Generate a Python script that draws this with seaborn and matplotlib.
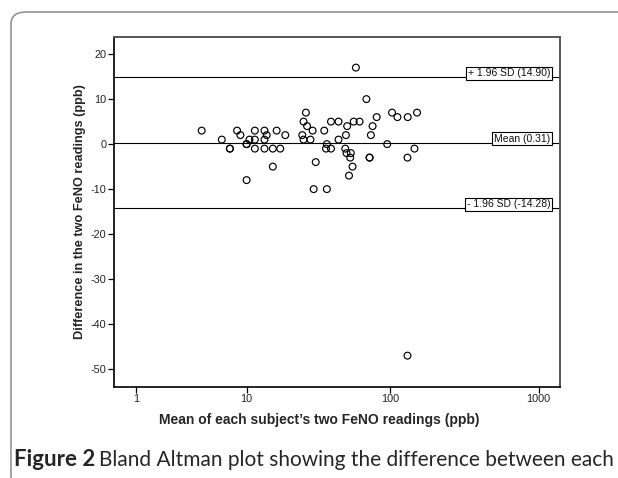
import numpy as np
import pandas as pd
import matplotlib
matplotlib.use("Agg")
import matplotlib.pyplot as plt
import seaborn as sns
from matplotlib.patches import FancyBboxPatch

# ---- data ----
mean_ppb = [4.5, 6.5, 7.5, 7.5, 8.5, 9, 10, 10, 10, 10.5, 11.5, 11.5, 11.5,
            13.5, 13.5, 13.5, 14, 15.5, 15.5, 16.5, 17.5, 19, 25, 25.5, 25.5,
            26.5, 27, 28.5, 29.5, 30, 31, 35.5, 37, 36.5, 39.5, 37, 39.5,
            44.5, 44.5, 51, 50, 49.5, 50.5, 54, 53.5, 55.5, 52.5, 56.5, 62,
            58.5, 69, 72.5, 72.5, 74, 76, 81, 95.5, 103, 112, 131.5, 152,
            131, 146, 131]
diff_ppb = [3, 1, -1, -1, 3, 2, 0, 0, -8, 1, 3, 1, -1,
            3, 1, -1, 2, -1, -5, 3, -1, 2, 2, 5, 1,
            7, 4, 1, 3, -10, -4, 3, 0, -1, -1, -10, 5,
            5, 1, 4, 2, -1, -2, -2, -3, -5, -7, 5, 5,
            17, 10, -3, -3, 2, 4, 6, 0, 7, 6, 6, 7,
            -3, -1, -47]
ref_values = [14.90, 0.31, -14.28]
ref_labels = ["+ 1.96 SD (14.90)", "Mean (0.31)", "- 1.96 SD (-14.28)"]
x_ticks = [1, 10, 100, 1000]
y_ticks = [-50, -40, -30, -20, -10, 0, 10, 20]

df = pd.DataFrame({"mean": mean_ppb, "diff": diff_ppb})

sns.set_theme(style="white")
plt.rcParams["font.family"] = ["Liberation Sans", "DejaVu Sans"]

W, H = 618, 478
fig = plt.figure(figsize=(W / 100, H / 100), dpi=100)
fig.patch.set_facecolor("white")

# outer rounded frame of the page figure box
frame = FancyBboxPatch((11 / W, 1 - 500 / H), 700 / W, 488 / H,
                       boxstyle="round,pad=0,rounding_size=0.025",
                       transform=fig.transFigure, fill=False,
                       edgecolor="#8a8a8a", linewidth=1.1, zorder=0)
fig.patches.append(frame)

ax = fig.add_axes([114 / W, 1 - 386.7 / H, (560 - 114) / W, (386.7 - 37) / H])

fwd = lambda v: np.log10(np.clip(v, -0.999999, None) + 1)
inv = lambda v: 10 ** v - 1
ax.set_xscale("function", functions=(fwd, inv))

for val in ref_values:
    ax.axhline(val, color="black", linewidth=0.8, zorder=1)

sns.scatterplot(data=df, x="mean", y="diff", ax=ax, marker="o", s=24,
                zorder=3, legend=False)
coll = ax.collections[-1]
coll.set_facecolor("none")
coll.set_edgecolor("black")
coll.set_linewidth(0.85)

for val, lab in zip(ref_values, ref_labels):
    ax.annotate(lab, xy=(1.0, val), xycoords=("axes fraction", "data"),
                xytext=(-7, 2.8), textcoords="offset points",
                ha="right", va="center", fontsize=7.5, color="#111",
                bbox=dict(boxstyle="square,pad=0.15", fc="white",
                          ec="black", lw=0.8), zorder=4)

ax.set_xlim(0.42, 1390)
ax.set_ylim(-53.9, 23.8)
ax.set_xticks(x_ticks)
ax.set_xticklabels([str(t) for t in x_ticks])
ax.set_yticks(y_ticks)
ax.set_yticklabels([str(t) for t in y_ticks])
ax.minorticks_off()
ax.tick_params(axis="both", which="major", direction="out", length=4,
               width=0.9, color="black", labelsize=7.8, labelcolor="#222",
               pad=1.5, bottom=True, left=True)
for side in ["left", "bottom"]:
    ax.spines[side].set_color("black")
    ax.spines[side].set_linewidth(1.2)
for side in ["top", "right"]:
    ax.spines[side].set_color("#555")
    ax.spines[side].set_linewidth(1.4)

ax.set_xlabel("Mean of each subject\u2019s two FeNO readings (ppb)",
              fontsize=10, fontweight="bold", labelpad=4)
ax.xaxis.set_label_coords(0.46, -0.075)
ax.set_ylabel("Difference in the two FeNO readings (ppb)",
              fontsize=9.2, fontweight="bold", labelpad=3)

# caption
cap_y = 1 - 466 / H
t1 = fig.text(14 / W, cap_y, "Figure 2", fontsize=16, fontweight="bold",
              family=["Lato", "DejaVu Sans"], ha="left", va="baseline")
fig.canvas.draw()
bb = t1.get_window_extent(fig.canvas.get_renderer())
fig.text(bb.x1 / W + 4 / W, cap_y,
         "Bland Altman plot showing the difference between each",
         fontsize=15.0, family=["Lato", "DejaVu Sans"], ha="left",
         va="baseline")

fig.savefig("out.png", dpi=100)
